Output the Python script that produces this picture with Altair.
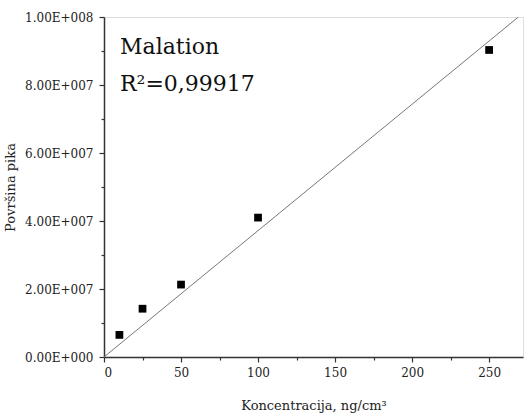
import altair as alt
import pandas as pd

# data
konc = [10, 25, 50, 100, 250]
povrsina = [6.5e6, 1.42e7, 2.13e7, 4.1e7, 9.03e7]
fit_x = [0, 269]
fit_y = [0, 1.0e8]

x_major = [0, 50, 100, 150, 200, 250]
x_minor = [25, 75, 125, 175, 225]
y_major = [0, 2e7, 4e7, 6e7, 8e7, 1e8]
y_labels = ["0.00E+000", "2.00E+007", "4.00E+007", "6.00E+007", "8.00E+007", "1.00E+008"]
y_minor = [1e7, 3e7, 5e7, 7e7, 9e7]

naslov = "Malation"
r2_text = "R²=0,99917"
x_title = "Koncentracija, ng/cm³"
y_title = "Površina pika"

FONT = "DejaVu Serif"
AX = "#333333"

pts = pd.DataFrame({"x": konc, "y": povrsina})
fit = pd.DataFrame({"x": fit_x, "y": fit_y})
minor_x_df = pd.DataFrame({"x": x_minor, "y": [0] * len(x_minor)})
minor_y_df = pd.DataFrame({"x": [0] * len(y_minor), "y": y_minor})

label_expr = "''"
for v, lab in zip(reversed(y_major), reversed(y_labels)):
    label_expr = f"datum.value == {v} ? '{lab}' : ({label_expr})"

xscale = alt.Scale(domain=[0, 272], nice=False, zero=False)
yscale = alt.Scale(domain=[0, 1e8], nice=False, zero=False)

x_axis = alt.Axis(values=x_major, title=x_title, orient="bottom", grid=False,
                  tickSize=5, tickColor=AX, tickWidth=1.2, domainColor=AX, domainWidth=1.5,
                  labelPadding=5, titlePadding=21)
y_axis = alt.Axis(values=y_major, title=y_title, orient="left", grid=False, labelExpr=label_expr,
                  tickSize=5, tickColor=AX, tickWidth=1.2, domainColor=AX, domainWidth=1.5,
                  labelPadding=6, titlePadding=7)

line = alt.Chart(fit).mark_line(color="#777777", strokeWidth=1, clip=True).encode(
    x=alt.X("x:Q", scale=xscale, axis=x_axis),
    y=alt.Y("y:Q", scale=yscale, axis=y_axis),
)

points = alt.Chart(pts).mark_point(shape="square", filled=True, color="black", size=60, opacity=1).encode(
    x=alt.X("x:Q", scale=xscale, axis=None),
    y=alt.Y("y:Q", scale=yscale, axis=None),
)

minor_x = alt.Chart(minor_x_df).mark_point(opacity=0).encode(
    x=alt.X("x:Q", scale=xscale, axis=alt.Axis(values=x_minor, orient="bottom", labels=False, domain=False,
                                                grid=False, tickSize=3, tickColor=AX, tickWidth=1.2, title=None)),
    y=alt.Y("y:Q", scale=yscale, axis=None),
)
minor_y = alt.Chart(minor_y_df).mark_point(opacity=0).encode(
    x=alt.X("x:Q", scale=xscale, axis=None),
    y=alt.Y("y:Q", scale=yscale, axis=alt.Axis(values=y_minor, orient="left", labels=False, domain=False,
                                                grid=False, tickSize=3, tickColor=AX, tickWidth=1.2, title=None)),
)

t1 = alt.Chart(pd.DataFrame({"t": [naslov]})).mark_text(
    align="left", baseline="alphabetic").encode(
    text="t:N", x=alt.value(16), y=alt.value(37))
t2 = alt.Chart(pd.DataFrame({"t": [r2_text]})).mark_text(
    align="left", baseline="alphabetic").encode(
    text="t:N", x=alt.value(16), y=alt.value(74))

chart = alt.layer(line, points, minor_x, minor_y, t1, t2).resolve_axis(
    x="independent", y="independent"
).properties(
    width=419, height=340,
    padding={"left": 104, "top": 17, "right": 2, "bottom": 60},
    autosize=alt.AutoSizeParams(type="none"),
).configure_view(stroke=None).configure(
    background="white", font=FONT
).configure_axis(
    labelFont=FONT, labelFontSize=12, labelColor="#222",
    titleFont=FONT, titleFontSize=13, titleFontWeight="normal", titleColor="#222",
).configure_text(font=FONT, fontSize=22, color="#111")

chart.save("out.html", embed_options={"renderer": "svg", "actions": False})
